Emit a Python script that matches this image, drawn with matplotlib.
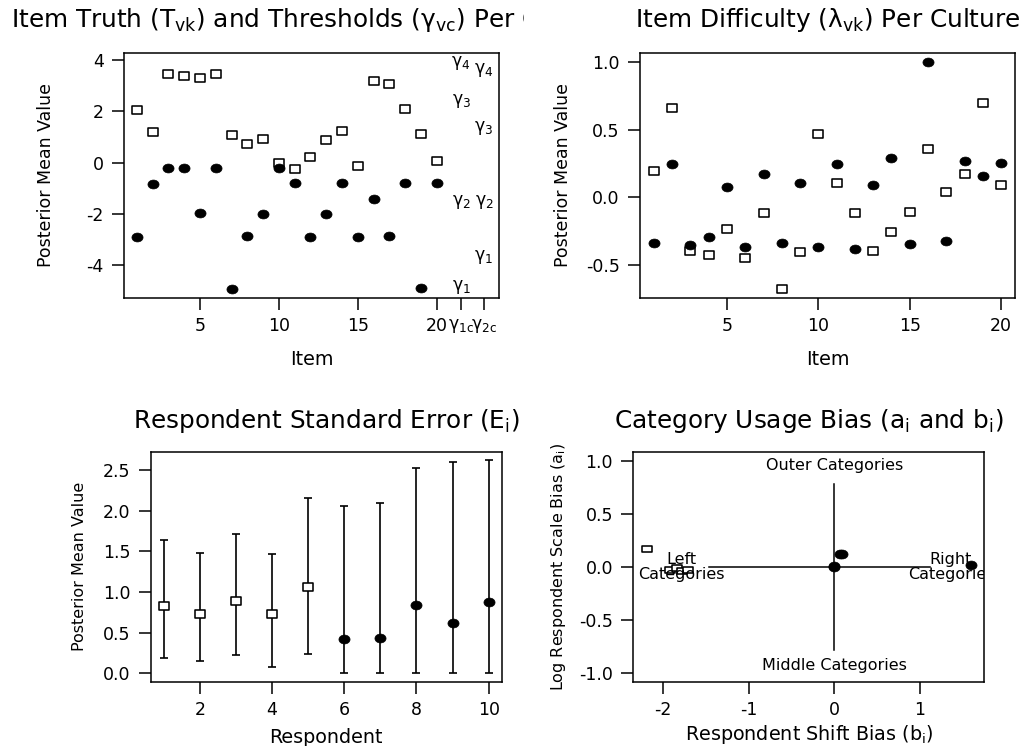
import matplotlib
matplotlib.use("Agg")
import matplotlib.pyplot as plt
import numpy as np
from matplotlib.path import Path
from matplotlib.transforms import Bbox, TransformedBbox, Affine2D

plt.rcParams['font.family'] = ['DejaVu Sans']
plt.rcParams['axes.unicode_minus'] = False
plt.rcParams['mathtext.default'] = 'regular'

# ---------------- data ----------------
items = list(range(1, 21))
truth_c1 = [2.05, 1.21, 3.45, 3.38, 3.29, 3.44, 1.08, 0.73, 0.91, 0.00,
            -0.26, 0.21, 0.88, 1.22, -0.12, 3.17, 3.06, 2.10, 1.12, 0.05]
truth_c2 = [-2.88, -0.84, -0.22, -0.22, -1.97, -0.22, -4.92, -2.86, -1.99, -0.22,
            -0.81, -2.88, -1.99, -0.81, -2.91, -1.40, -2.84, -0.81, -4.88, -0.81]
gamma_x = [21.55, 23.0]
gamma_c1 = [-4.83, -1.52, 2.38, 3.87]
gamma_c2 = [-3.66, -1.52, 1.36, 3.61]
gamma_names = [r'$\gamma_1$', r'$\gamma_2$', r'$\gamma_3$', r'$\gamma_4$']
tl_xticks = [5, 10, 15, 20, 21.55, 23.0]
tl_xticklabels = ['5', '10', '15', '20', r'$\gamma_{1c}$', r'$\gamma_{2c}$']

diff_c1 = [0.195, 0.66, -0.395, -0.427, -0.232, -0.447, -0.113, -0.676, -0.402, 0.466,
           0.109, -0.118, -0.395, -0.257, -0.109, 0.358, 0.039, 0.173, 0.696, 0.091]
diff_c2 = [-0.34, 0.247, -0.353, -0.296, 0.079, -0.368, 0.173, -0.34, 0.104, -0.365,
           0.249, -0.385, 0.094, 0.294, -0.343, 1.0, -0.326, 0.269, 0.158, 0.252]

respondents = list(range(1, 11))
se_mean = [0.82, 0.73, 0.887, 0.727, 1.063, 0.423, 0.427, 0.837, 0.612, 0.87]
se_lower = [0.185, 0.144, 0.218, 0.074, 0.23, 0.0, 0.0, 0.0, 0.0, 0.0]
se_upper = [1.638, 1.474, 1.712, 1.47, 2.151, 2.06, 2.094, 2.52, 2.603, 2.619]
resp_group = [1, 1, 1, 1, 1, 2, 2, 2, 2, 2]

shift_b = [-2.19, -1.92, -1.84, -1.78, -1.71, 0.0, 0.0, 0.07, 0.09, 1.59]
scale_a = [0.165, -0.03, -0.01, -0.04, -0.03, 0.0, 0.01, 0.12, 0.125, 0.02]
hline_x = [-1.47, 1.11]
vline_y = [-0.78, 0.78]

# ---------------- markers ----------------
rect_marker = Path([(-1, -0.72), (1, -0.72), (1, 0.72), (-1, 0.72), (-1, -0.72)],
                   [Path.MOVETO, Path.LINETO, Path.LINETO, Path.LINETO, Path.CLOSEPOLY])
ell_marker = Affine2D().scale(1.0, 0.8).transform_path(Path.unit_circle())

LW = 1.1

def sq(ax, x, y, ms=7.3):
    ax.plot(x, y, linestyle='none', marker=rect_marker, ms=ms, mfc='white',
            mec='black', mew=1.15, zorder=4)

def dot(ax, x, y, ms=8.0):
    ax.plot(x, y, linestyle='none', marker=ell_marker, ms=ms, mfc='black',
            mec='black', mew=0.5, zorder=4)

def style(ax):
    for s in ax.spines.values():
        s.set_linewidth(LW)
    ax.tick_params(direction='out', length=8.6, width=LW, labelsize=12.5)
    ax.tick_params(axis='y', pad=6.0)
    ax.tick_params(axis='x', pad=5.3)

W, H = 1023, 746
fig = plt.figure(figsize=(W / 100, H / 100), dpi=100)

def axes_px(l, t, r, b):
    return fig.add_axes([l / W, 1 - b / H, (r - l) / W, (b - t) / H])

# ---------------- top-left ----------------
ax1 = axes_px(124, 52.7, 499, 297.7)
sq(ax1, items, truth_c1)
dot(ax1, items, truth_c2)
for gx, gv in zip(gamma_x, [gamma_c1, gamma_c2]):
    for name, v in zip(gamma_names, gv):
        ax1.text(gx, v, name, ha='center', va='center', fontsize=12.5)
ax1.set_xlim(0.18, 23.95)
ax1.set_ylim(-5.26, 4.28)
ax1.set_xticks(tl_xticks)
ax1.set_xticklabels(tl_xticklabels)
ax1.set_yticks([-4, -2, 0, 2, 4])
style(ax1)

# ---------------- top-right ----------------
ax2 = axes_px(640, 52.7, 1015, 297.7)
sq(ax2, items, diff_c1)
dot(ax2, items, diff_c2)
ax2.set_xlim(0.24, 20.76)
ax2.set_ylim(-0.743, 1.07)
ax2.set_xticks([5, 10, 15, 20])
ax2.set_yticks([-0.5, 0.0, 0.5, 1.0])
ax2.set_yticklabels(['-0.5', '0.0', '0.5', '1.0'])
style(ax2)

# ---------------- bottom-left ----------------
ax3 = axes_px(150.7, 451.7, 501.7, 681.7)
m = np.array(se_mean)
lo = np.array(se_lower)
up = np.array(se_upper)
ax3.errorbar(respondents, m, yerr=[m - lo, up - m], fmt='none', ecolor='black',
             elinewidth=1.2, capsize=3.0, capthick=1.2, zorder=2)
g = np.array(resp_group)
r = np.array(respondents)
sq(ax3, r[g == 1], m[g == 1], ms=7.3)
dot(ax3, r[g == 2], m[g == 2], ms=8.0)
ax3.set_xlim(0.64, 10.36)
ax3.set_ylim(-0.105, 2.724)
ax3.set_xticks([2, 4, 6, 8, 10])
ax3.set_yticks([0, 0.5, 1.0, 1.5, 2.0, 2.5])
ax3.set_yticklabels(['0.0', '0.5', '1.0', '1.5', '2.0', '2.5'])
style(ax3)

# ---------------- bottom-right ----------------
ax4 = axes_px(633.3, 452.3, 984.3, 681.7)
ax4.plot(hline_x, [0, 0], color='black', lw=LW, zorder=1)
ax4.plot([0, 0], vline_y, color='black', lw=LW, zorder=1)
b = np.array(shift_b)
a = np.array(scale_a)
sq(ax4, b[g == 1], a[g == 1], ms=7.0)
dot(ax4, b[g == 2], a[g == 2], ms=8.0)
ax4.text(0, 0.95, 'Outer Categories', ha='center', va='center', fontsize=11.5)
ax4.text(0, -0.93, 'Middle Categories', ha='center', va='center', fontsize=11.5)
ax4.text(-1.79, 0.0, 'Left\nCategories', ha='center', va='center', fontsize=11.5,
         linespacing=1.0, zorder=5)
ax4.text(1.36, 0.0, 'Right\nCategories', ha='center', va='center', fontsize=11.5,
         linespacing=1.0, zorder=5, clip_on=True)
ax4.set_xlim(-2.35, 1.75)
ax4.set_ylim(-1.078, 1.078)
ax4.set_xticks([-2, -1, 0, 1])
ax4.set_yticks([-1.0, -0.5, 0.0, 0.5, 1.0])
ax4.set_yticklabels(['-1.0', '-0.5', '0.0', '0.5', '1.0'])
style(ax4)

# ---------------- titles & labels ----------------
TS = 17.8
tt = fig.text(311.5 / W, 1 - 27 / H,
              r'Item Truth ($T_{vk}$) and Thresholds ($\gamma_{vc}$) Per Culture',
              ha='center', va='baseline', fontsize=TS)
tt.set_clip_box(TransformedBbox(Bbox([[0, 0], [524 / W, 1]]), fig.transFigure))
tt.set_clip_on(True)
fig.text(827.5 / W, 1 - 27 / H, r'Item Difficulty ($\lambda_{vk}$) Per Culture',
         ha='center', va='baseline', fontsize=TS)
fig.text(326.2 / W, 1 - 428.3 / H, r'Respondent Standard Error ($E_i$)',
         ha='center', va='baseline', fontsize=TS)
fig.text(808.8 / W, 1 - 428.3 / H, r'Category Usage Bias ($a_i$ and $b_i$)',
         ha='center', va='baseline', fontsize=TS)

XS = 13.8
fig.text(311.5 / W, 1 - 365 / H, 'Item', ha='center', va='baseline', fontsize=XS)
fig.text(827.5 / W, 1 - 365 / H, 'Item', ha='center', va='baseline', fontsize=XS)
fig.text(326.2 / W, 1 - 743 / H, 'Respondent', ha='center', va='baseline', fontsize=XS)
fig.text(808.8 / W, 1 - 740 / H, r'Respondent Shift Bias ($b_i$)', ha='center',
         va='baseline', fontsize=XS)

fig.text(45.7 / W, 1 - 175.2 / H, 'Posterior Mean Value', rotation=90,
         ha='center', va='center', fontsize=12.5)
fig.text(563 / W, 1 - 175.2 / H, 'Posterior Mean Value', rotation=90,
         ha='center', va='center', fontsize=12.5)
fig.text(79 / W, 1 - 566.7 / H, 'Posterior Mean Value', rotation=90,
         ha='center', va='center', fontsize=11.5)
fig.text(558 / W, 1 - 567 / H, r'Log Respondent Scale Bias ($a_i$)', rotation=90,
         ha='center', va='center', fontsize=11.5)

fig.savefig('out.png', dpi=100)
